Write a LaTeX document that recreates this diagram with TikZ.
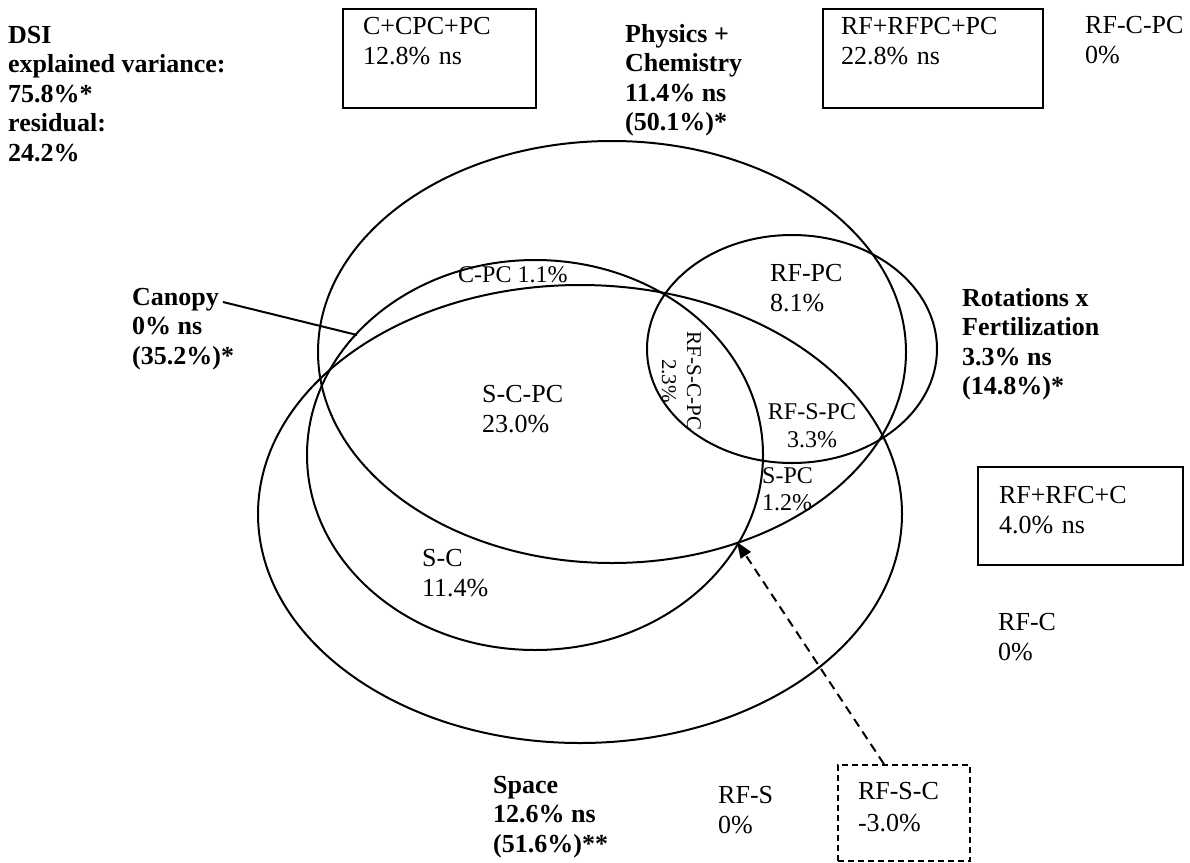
\documentclass[tikz,border=0pt]{standalone}
\usepackage{fontspec}
\setmainfont{Liberation Serif}
\usetikzlibrary{arrows.meta,calc}
\newcommand\tst[1]{\rule{0pt}{#1pt}}
\newcommand\bst[1]{\rule[-#1pt]{0pt}{1pt}}
\begin{document}
\begin{tikzpicture}[x=1pt,y=-1pt,
  venn/.style={line width=2pt},
  reg/.style={font=\fontsize{26}{30}\selectfont, anchor=north west, inner sep=0pt, align=left},
  bld/.style={font=\fontsize{26}{29.5}\selectfont\bfseries, anchor=north west, inner sep=0pt, align=left},
  sml/.style={font=\fontsize{24}{27.5}\selectfont, anchor=north west, inner sep=0pt, align=left},
  tny/.style={font=\fontsize{21}{25}\selectfont, inner sep=0pt, align=center},
  boxed/.style={draw, line width=2pt, font=\fontsize{26}{30}\selectfont, anchor=north west, align=left, inner ysep=5pt},
  dbox/.style={boxed, dash pattern=on 6pt off 4pt},
  darrow/.style={line width=2pt, dash pattern=on 9pt off 6pt, -{Triangle[length=16pt,width=12pt]}},
  leader/.style={line width=2pt}
]
\path[fill=white, use as bounding box] (0,0) rectangle (1190,862);

% ellipses
\coordinate (cPC) at (612,352);
\coordinate (cCan) at (535,455);
\coordinate (cSp) at (580,514);
\coordinate (cRF) at (792,349);
\draw[venn] (cPC) ellipse [x radius=294, y radius=211];
\draw[venn] (cCan) ellipse [x radius=228, y radius=195];
\draw[venn] (cSp) ellipse [x radius=322, y radius=229];
\draw[venn] (cRF) ellipse [x radius=145, y radius=114];

% boxes
\node[boxed, inner xsep=20pt, text width=153pt] (cpcbox) at (342,8) {\tst{20}C+CPC+PC\\12.8\% ns\bst{39}};
\node[boxed, inner xsep=18pt, text width=184pt] (rfpcbox) at (822,8) {\tst{20}RF+RFPC+PC\\22.8\% ns\bst{39}};
\node[boxed, inner xsep=21pt, text width=163pt] (rfcbox) at (977,466) {\tst{31}RF+RFC+C\\4.0\% ns\bst{27}};
\node[dbox, font=\fontsize{26}{32}\selectfont, inner xsep=20pt, text width=92pt] (rfsc) at (837,764) {\tst{29}RF-S-C\\-3.0\%\bst{25}};

% bold labels
\node[bld] (dsi) at (8,23) {\tst{20}DSI\\explained variance:\\75.8\%*\\residual:\\24.2\%};
\node[bld] (phys) at (625,22) {\tst{20}Physics +\\Chemistry\\11.4\% ns\\(50.1\%)*};
\node[bld] (canopy) at (132,285) {\tst{20}Canopy\\0\% ns\\(35.2\%)*};
\node[bld] (rot) at (962,286) {\tst{20}Rotations x\\Fertilization\\3.3\% ns\\(14.8\%)*};
\node[bld] (space) at (493,773) {\tst{20}Space\\12.6\% ns\\(51.6\%)**};

% region labels
\node[reg] (rfcpc) at (1085,13) {\tst{20}RF-C-PC\\0\%};
\node[reg] (scpc) at (482,382) {\tst{20}S-C-PC\\23.0\%};
\node[reg] (rfpcl) at (770,261) {\tst{20}RF-PC\\8.1\%};
\node[reg] (sc) at (422,546) {\tst{20}S-C\\11.4\%};
\node[reg] (rfcl) at (998,610) {\tst{20}RF-C\\0\%};
\node[reg] (rfs) at (718,783) {\tst{20}RF-S\\0\%};
\node[sml] (cpcl) at (458,264) {\tst{18}C-PC 1.1\%};
\node[sml, font=\fontsize{24}{28}\selectfont, anchor=north, align=center] (rfspc) at (812,401) {\tst{18}RF-S-PC\\3.3\%};
\node[sml, font=\fontsize{24}{27}\selectfont] (spc) at (762,465) {\tst{18}S-PC\\1.2\%};
\node[tny, rotate=-90] (rfscpc) at (681.5,381) {RF-S-C-PC\\2.3\%};

% connectors
\coordinate (canE) at (357,335);
\draw[leader] ($(canopy.north west)+(91,17)$) -- (canE);
\coordinate (tip) at (737,542);
\draw[darrow] ($(rfsc.north west)!0.35!(rfsc.north east)$) -- (tip);
\end{tikzpicture}
\end{document}
